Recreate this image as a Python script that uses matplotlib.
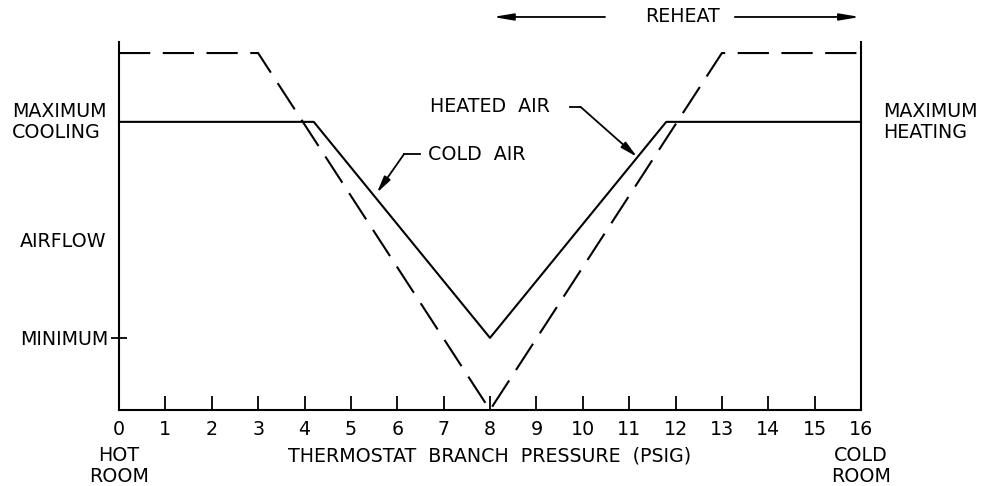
import matplotlib.pyplot as plt

plt.rcParams['font.family'] = ['DejaVu Sans']

# airflow curves (pressure in psig, airflow in relative units)
cold_x = [0, 4.2, 8, 11.8, 16]
cold_y = [7.83, 7.83, 1.96, 7.83, 7.83]
heat_x = [0, 3, 8, 13, 16]
heat_y = [9.7, 9.7, 0, 9.7, 9.7]

y_max = 7.83
y_min = 1.96
x_ticks = list(range(0, 17))

fig = plt.figure(figsize=(9.81, 4.86), dpi=100)
ax = fig.add_axes([119 / 981, 76 / 486, 742 / 981, 368 / 486])

ax.plot(cold_x, cold_y, color='black', lw=1.5, clip_on=False)
ax.plot(heat_x, heat_y, color='black', lw=1.5, ls=(0, (15, 6)), clip_on=False)

ax.set_xlim(0, 16)
ax.set_ylim(0, 10)
ax.spines['top'].set_visible(False)
for s in ['left', 'right', 'bottom']:
    ax.spines[s].set_linewidth(1.5)

fs = 13.7
ax.set_xticks(x_ticks)
ax.set_xticklabels([str(t) for t in x_ticks], fontsize=fs)
ax.tick_params(axis='x', direction='in', length=10, width=1.3, pad=7)
ax.set_yticks([y_min])
ax.set_yticklabels(['MINIMUM'], fontsize=fs)
ax.tick_params(axis='y', direction='inout', length=12, width=1.3, pad=2)

ax.text(-2.31, y_max, 'MAXIMUM\nCOOLING', ha='left', va='center', fontsize=fs,
        linespacing=1.15)
ax.text(16.47, y_max, 'MAXIMUM\nHEATING', ha='left', va='center', fontsize=fs,
        linespacing=1.15)
ax.text(-2.13, 4.59, 'AIRFLOW', ha='left', va='center', fontsize=fs)
ax.text(0, -0.98, 'HOT\nROOM', ha='center', va='top', fontsize=fs,
        linespacing=1.1)
ax.text(16, -0.98, 'COLD\nROOM', ha='center', va='top', fontsize=fs,
        linespacing=1.1)
ax.text(8, -0.98, 'THERMOSTAT  BRANCH  PRESSURE  (PSIG)', ha='center',
        va='top', fontsize=fs)

# reheat span
ax.text(12.16, 10.68, 'REHEAT', ha='center', va='center', fontsize=fs)
arrow = dict(arrowstyle='-|>,head_length=1.2,head_width=0.2', color='black',
             lw=1.3, shrinkA=0, shrinkB=0)
ax.annotate('', xy=(8.06, 10.68), xytext=(10.48, 10.68), arrowprops=arrow,
            annotation_clip=False)
ax.annotate('', xy=(15.98, 10.68), xytext=(13.28, 10.68), arrowprops=arrow,
            annotation_clip=False)

# leaders
leader = dict(arrowstyle='-|>,head_length=1.0,head_width=0.22', color='black',
              lw=1.3, shrinkA=0, shrinkB=0)
ax.text(6.7, 8.24, 'HEATED  AIR', ha='left', va='center', fontsize=fs)
ax.plot([9.73, 9.95], [8.24, 8.24], color='black', lw=1.3)
ax.annotate('', xy=(11.17, 6.88), xytext=(9.95, 8.24), arrowprops=leader)
ax.text(6.66, 6.93, 'COLD  AIR', ha='left', va='center', fontsize=fs)
ax.plot([6.5, 6.15], [6.96, 6.96], color='black', lw=1.3)
ax.annotate('', xy=(5.56, 5.9), xytext=(6.15, 6.96), arrowprops=leader)

fig.savefig('out.png', dpi=100)
